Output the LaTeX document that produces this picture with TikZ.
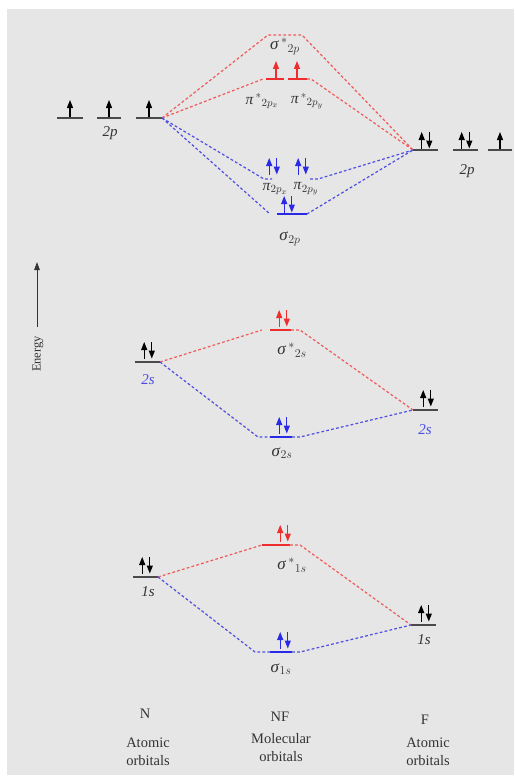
\documentclass[tikz,border=0pt]{standalone}
\usepackage{fontspec}
\setmainfont{Liberation Serif}
\usetikzlibrary{arrows.meta}
\definecolor{bg}{HTML}{E6E6E6}
\definecolor{ink}{HTML}{333333}
\definecolor{lvl}{HTML}{4A4A4A}
\definecolor{ared}{HTML}{EE2E2E}
\definecolor{ablue}{HTML}{2A2AE6}
\definecolor{dred}{HTML}{F05A5A}
\definecolor{dblue}{HTML}{4E4EE0}
\definecolor{lblue}{HTML}{4A4AE8}
% one electron arrow, up or down, at (x,y)
\newcommand\ElUp[3]{\draw[elec,#3] (#1,#2-1.5) -- (#1,#2-18);}
\newcommand\ElDn[3]{\draw[elec,#3] (#1,#2-18) -- (#1,#2-1.5);}
\newcommand\ElPair[3]{\ElUp{#1-3.8}{#2}{#3}\ElDn{#1+3.8}{#2}{#3}}
% orbital symbols: Greek letter, optional star, subscript
\newcommand\OrbS[2]{\textit{#1}$_{#2}$}
\newcommand\OrbA[2]{\textit{#1}$^{\,*}{}_{#2}$}
\begin{document}
\begin{tikzpicture}[x={(1pt,0pt)},y={(0pt,-1pt)},
  lvlline/.style={draw=lvl,line width=1.4pt},
  redlvl/.style={draw=ared,line width=1.4pt},
  bluelvl/.style={draw=ablue,line width=1.4pt},
  reddash/.style={draw=dred,line width=1.2pt,dash pattern=on 2.8pt off 2.2pt},
  bluedash/.style={draw=dblue,line width=1.2pt,dash pattern=on 2.8pt off 2.2pt},
  elec/.style={line width=1.3pt,-{Triangle[length=8pt,width=6pt]}},
  lab/.style={text=ink,inner sep=0pt,font=\fontsize{15}{17}\selectfont},
  greek/.style={text=ink,inner sep=0pt,font=\fontsize{17}{19}\selectfont},
  greeks/.style={text=ink,inner sep=0pt,font=\fontsize{15.5}{17}\selectfont},
  small/.style={text=ink,inner sep=0pt,font=\fontsize{14.5}{18}\selectfont,align=center}]
\useasboundingbox (0,0) rectangle (515,776);
\fill[bg] (7,9) rectangle (514,775);

% ---- atomic levels ----
\coordinate (n2paL) at (57,118);  \coordinate (n2paR) at (83,118);
\coordinate (n2pbL) at (97,118);  \coordinate (n2pbR) at (121,118);
\coordinate (n2pcL) at (136,118); \coordinate (n2pcR) at (162,118);
\coordinate (f2paL) at (413,150); \coordinate (f2paR) at (438,150);
\coordinate (f2pbL) at (453,150); \coordinate (f2pbR) at (478,150);
\coordinate (f2pcL) at (488,150); \coordinate (f2pcR) at (512,150);
\coordinate (n2sL) at (135,362);  \coordinate (n2sR) at (160,362);
\coordinate (f2sL) at (413,410);  \coordinate (f2sR) at (438,410);
\coordinate (n1sL) at (133,577);  \coordinate (n1sR) at (158,577);
\coordinate (f1sL) at (411,625);  \coordinate (f1sR) at (436,625);
\foreach \a in {n2pa,n2pb,n2pc,f2pa,f2pb,f2pc,n2s,f2s,n1s,f1s}
  \draw[lvlline] (\a L) -- (\a R);

% ---- molecular levels ----
\coordinate (ss2pL) at (268,35);  \coordinate (ss2pR) at (302,35);
\coordinate (ppxL) at (266,79);   \coordinate (ppxR) at (284,79);
\coordinate (ppyL) at (288,79);   \coordinate (ppyR) at (307,79);
\coordinate (px2L) at (264,179);  \coordinate (px2R) at (272,179);
\coordinate (py2L) at (310,179);  \coordinate (py2R) at (318,179);
\coordinate (s2pL) at (277,214);  \coordinate (s2pR) at (307,214);
\coordinate (ss2sL) at (270,330); \coordinate (ss2sR) at (291,330);
\coordinate (s2sL) at (270,437);  \coordinate (s2sR) at (292,437);
\coordinate (ss1sL) at (262,545); \coordinate (ss1sR) at (290,545);
\coordinate (s1sL) at (270,652);  \coordinate (s1sR) at (292,652);
\draw[redlvl] (ppxL) -- (ppxR);
\draw[redlvl] (ppyL) -- (ppyR);
\draw[bluelvl] (s2pL) -- (s2pR);
\draw[redlvl] (ss2sL) -- (ss2sR);
\draw[bluelvl] (s2sL) -- (s2sR);
\draw[redlvl] (ss1sL) -- (ss1sR);
\draw[bluelvl] (s1sL) -- (s1sR);

% ---- correlation lines, 2p ----
\draw[reddash] (n2pcR) -- (ss2pL) -- (ss2pR) -- (f2paL);
\draw[reddash] (n2pcR) -- ([xshift=-3pt]ppxL);
\draw[reddash] (ppyR) -- ([xshift=4pt]ppyR) -- (f2paL);
\draw[bluedash] (n2pcR) -- (px2L) -- (px2R);
\draw[bluedash] (py2L) -- (py2R) -- (f2paL);
\draw[bluedash] (n2pcR) -- ([xshift=-7pt]s2pL);
\draw[bluedash] (s2pR) -- (f2paL);
% ---- correlation lines, 2s ----
\draw[reddash] (n2sR) -- ([xshift=-8pt]ss2sL);
\draw[reddash] (ss2sR) -- ([xshift=9pt]ss2sR) -- (f2sL);
\draw[bluedash] (n2sR) -- ([xshift=-12pt]s2sL) -- (s2sL);
\draw[bluedash] (s2sR) -- ([xshift=8pt]s2sR) -- (f2sL);
% ---- correlation lines, 1s ----
\draw[reddash] (n1sR) -- (ss1sL);
\draw[reddash] (ss1sR) -- ([xshift=10pt]ss1sR) -- (f1sL);
\draw[bluedash] (n1sR) -- ([xshift=-15pt]s1sL) -- (s1sL);
\draw[bluedash] (s1sR) -- ([xshift=8pt]s1sR) -- (f1sL);

% ---- electrons ----
\ElUp{70}{118}{black}\ElUp{109}{118}{black}\ElUp{149}{118}{black}
\ElPair{425.5}{150}{black}\ElPair{465.5}{150}{black}\ElUp{500}{150}{black}
\ElUp{276}{79}{ared}\ElUp{297}{79}{ared}
\ElPair{273}{176}{ablue}\ElPair{302}{176}{ablue}
\ElPair{288}{214}{ablue}
\ElPair{148}{360}{black}
\ElPair{283}{328}{ared}
\ElPair{283}{435}{ablue}
\ElPair{427}{408}{black}
\ElPair{146}{575}{black}
\ElPair{284}{543}{ared}
\ElPair{284}{650}{ablue}
\ElPair{425}{623}{black}

% ---- labels ----
\node[lab] (t2pN) at (110,133) {\textit{2p}};
\node[lab] (t2pF) at (467,171) {\textit{2p}};
\node[greek] (tss2p) at (285,46) {\OrbA{σ}{2p}};
\node[greeks] (tppx) at (262,101) {\OrbA{π}{2p_x}};
\node[greeks] (tppy) at (307,101) {\OrbA{π}{2p_y}};
\node[greeks] (tpx) at (275,189) {\OrbS{π}{2p_x}};
\node[greeks] (tpy) at (306,189) {\OrbS{π}{2p_y}};
\node[greek] (ts2p) at (290,239) {\OrbS{σ}{2p}};
\node[lab,text=lblue] (t2sN) at (148,380) {\textit{2s}};
\node[lab,text=lblue] (t2sF) at (425,430) {\textit{2s}};
\node[greek] (tss2s) at (292,350) {\OrbA{σ}{2s}};
\node[greek] (ts2s) at (282,453) {\OrbS{σ}{2s}};
\node[lab] (t1sN) at (148,592) {\textit{1s}};
\node[lab] (t1sF) at (424,640) {\textit{1s}};
\node[greek] (tss1s) at (292,565) {\OrbA{σ}{1s}};
\node[greek] (ts1s) at (281,669) {\OrbS{σ}{1s}};

% ---- energy axis ----
\coordinate (eLo) at (37,327);
\coordinate (eHi) at (37,262);
\draw[line width=1pt,draw=ink,-{Triangle[length=8pt,width=5.5pt]}] (eLo) -- (eHi);
\node[small,rotate=90,font=\fontsize{12.5}{14}\selectfont] (energy) at (38,354) {Energy};

% ---- column captions ----
\node[small] (cN) at (145,714) {N};
\node[small] (cNF) at (280,717) {NF};
\node[small] (cF) at (425,720) {F};
\node[small] (capN) at (148,752) {Atomic\\orbitals};
\node[small] (capNF) at (281,748) {Molecular\\orbitals};
\node[small] (capF) at (428,752) {Atomic\\orbitals};
\end{tikzpicture}
\end{document}
